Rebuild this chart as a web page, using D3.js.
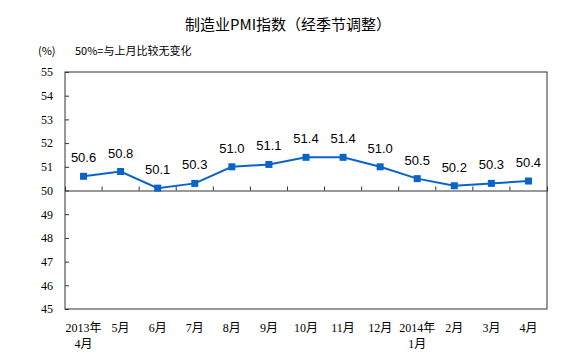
<!DOCTYPE html>
<html lang="zh">
<head>
  <meta charset="UTF-8">
  <title>制造业PMI指数</title>
  <style>
    body { margin: 0; background: #fff; }
  </style>
</head>
<body>
  <script src="https://cdn.jsdelivr.net/npm/d3@7/dist/d3.min.js"></script>
  <script>
// 数据
const months = ['2013年\n4月', '5月', '6月', '7月', '8月', '9月', '10月', '11月', '12月', '2014年\n1月', '2月', '3月', '4月']
const pmi = [50.6, 50.8, 50.1, 50.3, 51.0, 51.1, 51.4, 51.4, 51.0, 50.5, 50.2, 50.3, 50.4]
const yTicks = [45, 46, 47, 48, 49, 50, 51, 52, 53, 54, 55]

const width = 582
const height = 361
const svg = d3.select('body').append('svg')
  .attr('width', width)
  .attr('height', height)

const margin = { top: 72, right: 35, bottom: 52, left: 65 }
const innerWidth = width - margin.left - margin.right
const innerHeight = height - margin.top - margin.bottom

const xScale = d3.scaleBand()
  .domain(months)
  .range([0, innerWidth])

const yScale = d3.scaleLinear()
  .domain([45, 55])
  .range([innerHeight, 0])

const g = svg.append('g')
  .attr('transform', `translate(${margin.left}, ${margin.top})`)

// 标题
svg.append('text')
  .attr('x', 288).attr('y', 30)
  .attr('text-anchor', 'middle')
  .attr('font-family', 'Noto Sans CJK SC')
  .attr('font-size', 15)
  .attr('fill', '#000')
  .text('制造业PMI指数（经季节调整）')

svg.append('text')
  .attr('x', 38).attr('y', 55)
  .attr('font-family', 'Noto Sans CJK SC')
  .attr('font-size', 11)
  .text('(%)')

svg.append('text')
  .attr('x', 75).attr('y', 55)
  .attr('font-family', 'Noto Sans CJK SC')
  .attr('font-size', 11)
  .text('50%=与上月比较无变化')

// 边框
g.append('rect')
  .attr('width', innerWidth)
  .attr('height', innerHeight)
  .attr('fill', 'none')
  .attr('stroke', '#333')
  .attr('stroke-width', 1)

// y 轴
const yAxis = d3.axisLeft(yScale).tickValues(yTicks).tickSize(-4).tickPadding(12)
const yG = g.append('g').call(yAxis)
yG.select('.domain').remove()
yG.selectAll('line').attr('stroke', '#333')
yG.selectAll('text')
  .attr('font-family', 'Liberation Serif')
  .attr('font-size', 12)
  .attr('fill', '#000')

// 50 基准线和刻度
const xAxis = d3.axisTop(xScale).tickSize(4).tickFormat('')
const xG = g.append('g')
  .attr('transform', `translate(0, ${yScale(50)})`)
  .call(xAxis)
xG.select('.domain').attr('stroke', '#333')
xG.selectAll('.tick')
  .attr('transform', d => `translate(${xScale(d)},0)`)
xG.selectAll('line').attr('stroke', '#333')
xG.selectAll('.tick').filter((d, i) => i === 0).remove()

// x 轴标签（两行的用两个 text）
const xl = g.append('g')
  .attr('transform', `translate(0, ${innerHeight})`)
months.forEach(m => {
  m.split('\n').forEach((l, i) => {
    xl.append('text')
      .attr('x', xScale(m) + xScale.bandwidth() / 2)
      .attr('y', 23 + i * 16)
      .attr('text-anchor', 'middle')
      .attr('font-family', 'Liberation Serif, Noto Sans CJK SC')
      .attr('font-size', 12)
      .attr('fill', '#000')
      .text(l)
  })
})

// 折线
const line = d3.line()
  .x((d, i) => xScale(months[i]) + xScale.bandwidth() / 2)
  .y(d => yScale(d))

g.append('path')
  .datum(pmi)
  .attr('d', line)
  .attr('fill', 'none')
  .attr('stroke', '#0a64c8')
  .attr('stroke-width', 2)

g.selectAll('.pt')
  .data(pmi)
  .enter()
  .append('rect')
  .attr('class', 'pt')
  .attr('x', (d, i) => xScale(months[i]) + xScale.bandwidth() / 2 - 3.5)
  .attr('y', d => yScale(d) - 3.5)
  .attr('width', 7)
  .attr('height', 7)
  .attr('fill', '#0a64c8')

g.selectAll('.lbl')
  .data(pmi)
  .enter()
  .append('text')
  .attr('class', 'lbl')
  .attr('x', (d, i) => xScale(months[i]) + xScale.bandwidth() / 2)
  .attr('y', d => yScale(d) - 14)
  .attr('text-anchor', 'middle')
  .attr('font-family', 'Liberation Sans')
  .attr('font-size', 13)
  .attr('fill', '#000')
  .text(d => d.toFixed(1))
  </script>
</body>
</html>
